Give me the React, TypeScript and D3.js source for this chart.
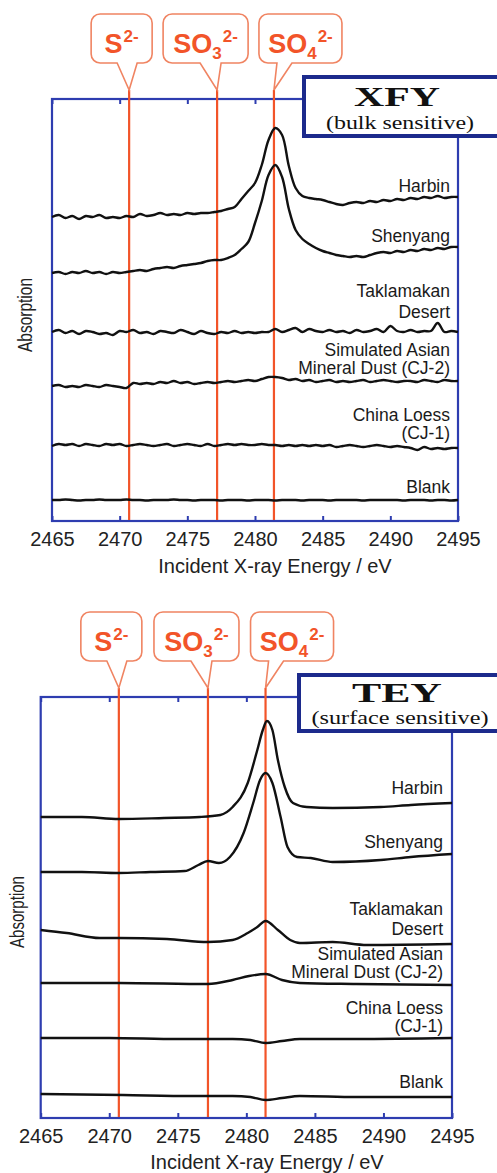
import React, { useEffect, useRef } from 'react';
import * as d3 from 'd3';

const W = 497;
const H = 1173;

// sulfur species reference energies (eV)
const speciesEnergy = [2470.7, 2477.2, 2481.4];
const speciesBase = ['S', 'SO', 'SO'];
const speciesSub = ['', '3', '4'];
const speciesSup = ['2-', '2-', '2-'];

const xTicks = [2465, 2470, 2475, 2480, 2485, 2490, 2495];

const sampleNames = [
  ['Harbin'],
  ['Shenyang'],
  ['Taklamakan', 'Desert'],
  ['Simulated Asian', 'Mineral Dust (CJ-2)'],
  ['China Loess', '(CJ-1)'],
  ['Blank'],
];

// XFY spectra, sampled every 0.5 eV from 2465 to 2495 (stacked, a.u.)
const xfyEnergy = d3.range(2465, 2495.25, 0.5);
const xfyHarbin = [
  30.4, 30.6, 30.3, 30.5, 30.2, 30.5, 30.4, 30.6, 30.3, 30.4,
  30.3, 30.5, 30.4, 30.7, 30.5, 30.6, 30.8, 30.6, 30.7, 30.6,
  30.8, 30.7, 30.8, 30.8, 30.9, 31.0, 31.2, 31.4, 32.2, 33.0,
  33.8, 35.6, 38.1, 39.3, 38.6, 35.5, 33.3, 32.5, 32.3, 32.2,
  32.1, 31.9, 31.7, 31.6, 31.8, 31.9, 31.8, 32.0, 31.9, 32.1,
  32.0, 32.2, 32.1, 32.3, 32.2, 32.4, 32.3, 32.5, 32.3, 32.4,
  32.4,
];
const xfyShenyang = [
  24.8, 24.9, 24.7, 24.9, 24.8, 25.0, 24.8, 24.9, 24.7, 24.9,
  24.8, 24.9, 25.0, 25.1, 25.0, 25.2, 25.3, 25.4, 25.3, 25.5,
  25.6, 25.7, 25.8, 26.0, 26.1, 26.1, 26.3, 26.6, 27.2, 27.9,
  29.8, 32.0, 34.6, 35.6, 34.4, 31.2, 29.1, 28.2, 27.7, 27.3,
  27.0, 26.8, 26.6, 26.5, 26.4, 26.5, 26.4, 26.6, 26.8, 26.9,
  26.8, 27.0, 26.9, 27.1, 27.0, 27.2, 27.1, 27.3, 27.2, 27.4,
  27.4,
];
const xfyTaklamakan = [
  18.9, 19.1, 18.8, 19.0, 18.7, 19.0, 18.9, 18.7, 18.8, 18.6,
  19.0, 18.9, 19.1, 18.8, 18.9, 18.7, 19.0, 18.9, 18.8, 19.1,
  18.9, 18.7, 19.0, 18.8, 18.7, 18.9, 18.8, 19.0, 18.8, 18.9,
  18.8, 18.9, 18.9, 19.2, 18.9, 19.1, 19.3, 18.9, 19.2, 19.0,
  18.9, 19.1, 18.9, 19.0, 18.8, 19.1, 18.9, 19.0, 19.2, 18.9,
  19.5, 19.0, 18.9, 19.1, 18.9, 19.0, 19.0, 19.8, 18.9, 19.0,
  18.9,
];
const xfyCJ2 = [
  13.5, 13.6, 13.4, 13.5, 13.4, 13.6, 13.5, 13.4, 13.6, 13.5,
  13.4, 13.3, 13.8, 13.7, 13.8, 13.7, 13.9, 13.8, 14.0, 13.8,
  13.9, 13.7, 13.8, 13.9, 13.8, 13.9, 14.0, 13.9, 14.0, 14.1,
  14.0, 14.2, 14.4, 14.4, 14.3, 14.1, 14.2, 14.0, 14.1, 13.9,
  14.0, 14.1, 13.9, 14.0, 13.9, 14.0, 14.1, 13.9, 14.0, 14.1,
  14.0, 13.9, 14.0, 14.0, 13.9, 14.1, 14.0, 13.9, 14.1, 14.0,
  14.0,
];
const xfyCJ1 = [
  7.5, 7.7, 7.6, 7.7, 7.5, 7.7, 7.6, 7.5, 7.7, 7.6,
  7.7, 7.5, 7.6, 7.7, 7.6, 7.5, 7.6, 7.7, 7.5, 7.6,
  7.7, 7.6, 7.5, 7.7, 7.5, 7.6, 7.7, 7.6, 7.7, 7.6,
  7.6, 7.7, 7.6, 7.6, 7.5, 7.6, 7.5, 7.6, 7.5, 7.6,
  7.5, 7.6, 7.4, 7.5, 7.6, 7.5, 7.4, 7.5, 7.6, 7.5,
  7.4, 7.5, 7.4, 7.3, 7.1, 7.4, 7.2, 7.3, 7.2, 7.3,
  7.3,
];
const xfyBlank = [
  2.1, 2.1, 2.15, 2.1, 2.05, 2.1, 2.1, 2.15, 2.1, 2.1,
  2.1, 2.15, 2.1, 2.1, 2.05, 2.1, 2.1, 2.1, 2.15, 2.1,
  2.1, 2.05, 2.1, 2.1, 2.1, 2.05, 2.1, 2.1, 2.1, 2.05,
  2.1, 2.1, 2.1, 2.05, 2.1, 2.1, 2.1, 2.05, 2.1, 2.1,
  2.1, 2.05, 2.1, 2.1, 2.1, 2.1, 2.05, 2.1, 2.1, 2.1,
  2.1, 2.1, 2.05, 2.1, 2.1, 2.1, 2.05, 2.1, 2.1, 2.05,
  2.1,
];

// TEY spectra, [energy eV, absorption a.u.]
const teyHarbin = [
  [2465, 30.1], [2468, 30.1], [2470.7, 29.9], [2474, 30.0], [2476.6, 30.1],
  [2478.1, 30.3], [2479.0, 31.1], [2480.1, 33.5], [2480.8, 36.8], [2481.2, 38.8],
  [2481.5, 39.7], [2481.9, 38.8], [2482.3, 35.8], [2482.8, 33.1], [2483.4, 31.5],
  [2484.4, 31.1], [2486.3, 31.0], [2489.8, 31.1], [2492, 31.3], [2495, 31.5],
];
const teyShenyang = [
  [2465, 24.6], [2468, 24.6], [2470.7, 24.5], [2473, 24.6], [2475.5, 24.7],
  [2476.5, 25.3], [2477.2, 25.7], [2478.0, 25.5], [2478.8, 26.1], [2479.8, 28.5],
  [2480.5, 31.5], [2481.0, 33.8], [2481.4, 34.5], [2481.9, 33.5], [2482.5, 30.1],
  [2483.0, 27.1], [2483.7, 26.1], [2484.7, 26.0], [2486.3, 25.6], [2489.8, 25.8],
  [2492, 26.1], [2495, 26.4],
];
const teyTaklamakan = [
  [2465, 18.8], [2466.9, 18.5], [2469.3, 18.0], [2470.7, 18.0], [2474.2, 17.9],
  [2477.2, 17.6], [2479.0, 17.8], [2480.1, 18.5], [2480.8, 19.1], [2481.4, 19.7],
  [2482.3, 18.8], [2483.2, 17.8], [2483.9, 17.5], [2486.3, 17.6], [2488.8, 17.3],
  [2495, 17.4],
];
const teyCJ2 = [
  [2465, 13.5], [2470.7, 13.5], [2477.2, 13.4], [2479.0, 13.8], [2480.2, 14.2],
  [2481.4, 14.4], [2482.6, 13.8], [2483.9, 13.5], [2488, 13.4], [2495, 13.3],
];
const teyCJ1 = [
  [2465, 8.0], [2470, 8.0], [2475, 7.9], [2479, 7.9], [2480.3, 7.8],
  [2481.4, 7.5], [2482.6, 7.7], [2483.9, 7.9], [2488, 7.9], [2495, 8.0],
];
const teyBlank = [
  [2465, 2.4], [2471, 2.3], [2476, 2.2], [2479, 2.2], [2480.3, 2.1],
  [2481.4, 1.8], [2482.6, 2.0], [2483.9, 2.2], [2488, 2.1], [2495, 2.1],
];

const xfySeries = [xfyHarbin, xfyShenyang, xfyTaklamakan, xfyCJ2, xfyCJ1, xfyBlank].map((vals) =>
  vals.map((v, i) => [xfyEnergy[i], v])
);
const teySeries = [teyHarbin, teyShenyang, teyTaklamakan, teyCJ2, teyCJ1, teyBlank];

// layout of each panel (pixels)
const panels = [
  {
    title: 'XFY', subtitle: '(bulk sensitive)', series: xfySeries, smooth: false,
    left: 52, right: 458, top: 99, bottom: 521, yMax: 42.2, tipY: 90,
    labelX: 450, labelY: [[192], [242], [297, 318], [356, 374], [421, 439], [493]],
    box: { x: 304, y: 77, w: 200, h: 59, titleY: 106, subY: 129, titleLen: 86, subLen: 148 },
    absX: 32, absY: 315, absLen: 74, axisTitleX: 275, axisTitleY: 573,
  },
  {
    title: 'TEY', subtitle: '(surface sensitive)', series: teySeries, smooth: true,
    left: 40.7, right: 452, top: 697, bottom: 1118, yMax: 42.1, tipY: 688,
    labelX: 443, labelY: [[794], [848], [915, 935], [960, 978], [1014, 1032], [1088]],
    box: { x: 299, y: 675, w: 200, h: 56, titleY: 702, subY: 724, titleLen: 90, subLen: 177 },
    absX: 24, absY: 912, absLen: 72, axisTitleX: 267, axisTitleY: 1169,
  },
];

// callout boxes relative to the line tip
const calloutOffset = [-38, -54, -15];
const calloutWidth = [61, 85, 83];
const calloutWedge = [[-12, 8], [-17, 4], [3, 18]];

const BLUE = '#2e3db0';
const NAVY = '#1c2a8c';
const RED = '#f25429';
const ORANGE = '#f08462';
const SANS = "'Liberation Sans', Arial, Helvetica, sans-serif";
const SERIF = "'Liberation Serif', 'Times New Roman', serif";

function calloutPath(x0, y0, w, h, r, tipX, tipY, b0, b1) {
  const p = d3.path();
  p.moveTo(x0 + r, y0);
  p.lineTo(x0 + w - r, y0);
  p.arcTo(x0 + w, y0, x0 + w, y0 + r, r);
  p.lineTo(x0 + w, y0 + h - r);
  p.arcTo(x0 + w, y0 + h, x0 + w - r, y0 + h, r);
  p.lineTo(tipX + b1, y0 + h);
  p.lineTo(tipX, tipY);
  p.lineTo(tipX + b0, y0 + h);
  p.lineTo(x0 + r, y0 + h);
  p.arcTo(x0, y0 + h, x0, y0 + h - r, r);
  p.lineTo(x0, y0 + r);
  p.arcTo(x0, y0, x0 + r, y0, r);
  p.closePath();
  return p.toString();
}

const App = () => {
  const svgRef = useRef(null);

  useEffect(() => {
    const svg = d3.select(svgRef.current);
    svg.selectAll('*').remove();
    svg.append('rect').attr('width', W).attr('height', H).attr('fill', '#ffffff');

    panels.forEach((cfg) => {
      const g = svg.append('g');
      const x = d3.scaleLinear().domain([2465, 2495]).range([cfg.left, cfg.right]);
      const y = d3.scaleLinear().domain([0, cfg.yMax]).range([cfg.bottom, cfg.top]);

      // axes with inward ticks
      const bottomAxis = g
        .append('g')
        .attr('transform', `translate(0,${cfg.bottom})`)
        .call(d3.axisBottom(x).tickValues(xTicks).tickSizeInner(-5).tickSizeOuter(0).tickPadding(11).tickFormat(d3.format('d')));
      bottomAxis.selectAll('line').attr('stroke', BLUE).attr('stroke-width', 2);
      bottomAxis.select('.domain').remove();
      bottomAxis.selectAll('text').attr('font-family', SANS).attr('font-size', 20).attr('fill', '#222');

      const topAxis = g
        .append('g')
        .attr('transform', `translate(0,${cfg.top})`)
        .call(d3.axisTop(x).tickValues(xTicks).tickSizeInner(-5).tickSizeOuter(0).tickFormat(''));
      topAxis.selectAll('line').attr('stroke', BLUE).attr('stroke-width', 2);
      topAxis.select('.domain').remove();

      // plot frame
      g.append('rect')
        .attr('x', cfg.left)
        .attr('y', cfg.top)
        .attr('width', cfg.right - cfg.left)
        .attr('height', cfg.bottom - cfg.top)
        .attr('fill', 'none')
        .attr('stroke', BLUE)
        .attr('stroke-width', 2.2);

      // species reference lines
      g.selectAll('.ref')
        .data(speciesEnergy)
        .enter()
        .append('line')
        .attr('x1', (d) => x(d))
        .attr('x2', (d) => x(d))
        .attr('y1', cfg.tipY)
        .attr('y2', cfg.bottom - 1)
        .attr('stroke', RED)
        .attr('stroke-width', 2.2);

      // spectra
      const line = d3
        .line()
        .x((d) => x(d[0]))
        .y((d) => y(d[1]))
        .curve(cfg.smooth ? d3.curveMonotoneX : d3.curveCatmullRom.alpha(0.5));

      cfg.series.forEach((s) => {
        g.append('path')
          .datum(s)
          .attr('d', line)
          .attr('fill', 'none')
          .attr('stroke', '#111')
          .attr('stroke-width', 2.4)
          .attr('stroke-linejoin', 'round');
      });

      // sample labels
      sampleNames.forEach((lines, i) => {
        lines.forEach((txt, j) => {
          g.append('text')
            .attr('x', cfg.labelX)
            .attr('y', cfg.labelY[i][j])
            .attr('text-anchor', 'end')
            .attr('font-family', SANS)
            .attr('font-size', 17.5)
            .attr('fill', '#1a1a1a')
            .text(txt);
        });
      });

      // callouts
      speciesEnergy.forEach((e, i) => {
        const tipX = x(e);
        const bx = tipX + calloutOffset[i];
        const by = cfg.tipY - 76;
        const bw = calloutWidth[i];
        const bh = 49;
        g.append('path')
          .attr('d', calloutPath(bx, by, bw, bh, 9, tipX, cfg.tipY, calloutWedge[i][0], calloutWedge[i][1]))
          .attr('fill', '#fff')
          .attr('stroke', ORANGE)
          .attr('stroke-width', 1.6);
        const t = g
          .append('text')
          .attr('x', bx + bw / 2)
          .attr('y', by + 39)
          .attr('text-anchor', 'middle')
          .attr('font-family', SANS)
          .attr('font-weight', 'bold')
          .attr('fill', RED);
        t.append('tspan').attr('font-size', 27).text(speciesBase[i]);
        let shift = 0;
        if (speciesSub[i]) {
          t.append('tspan').attr('font-size', 17).attr('dy', 6).text(speciesSub[i]);
          shift = 6;
        }
        t.append('tspan')
          .attr('font-size', 17)
          .attr('dx', 1)
          .attr('dy', -11 - shift)
          .text(speciesSup[i]);
      });

      // method box
      const b = cfg.box;
      g.append('rect')
        .attr('x', b.x)
        .attr('y', b.y)
        .attr('width', b.w)
        .attr('height', b.h)
        .attr('fill', '#fff')
        .attr('stroke', NAVY)
        .attr('stroke-width', 4);
      g.append('text')
        .attr('x', 397)
        .attr('y', b.titleY)
        .attr('text-anchor', 'middle')
        .attr('font-family', SERIF)
        .attr('font-weight', 'bold')
        .attr('font-size', 27)
        .attr('textLength', b.titleLen)
        .attr('lengthAdjust', 'spacingAndGlyphs')
        .attr('fill', '#111')
        .text(cfg.title);
      g.append('text')
        .attr('x', 400)
        .attr('y', b.subY)
        .attr('text-anchor', 'middle')
        .attr('font-family', SERIF)
        .attr('font-size', 18.5)
        .attr('textLength', b.subLen)
        .attr('lengthAdjust', 'spacingAndGlyphs')
        .attr('fill', '#111')
        .text(cfg.subtitle);

      // axis titles
      g.append('text')
        .attr('transform', `translate(${cfg.absX},${cfg.absY}) rotate(-90)`)
        .attr('text-anchor', 'middle')
        .attr('font-family', SANS)
        .attr('font-size', 20)
        .attr('textLength', cfg.absLen)
        .attr('lengthAdjust', 'spacingAndGlyphs')
        .attr('fill', '#222')
        .text('Absorption');
      g.append('text')
        .attr('x', cfg.axisTitleX)
        .attr('y', cfg.axisTitleY)
        .attr('text-anchor', 'middle')
        .attr('font-family', SANS)
        .attr('font-size', 20)
        .attr('fill', '#222')
        .text('Incident X-ray Energy / eV');
    });
  }, []);

  return (
    <div style={{ position: 'absolute', left: 0, top: 0 }}>
      <svg ref={svgRef} width={W} height={H} style={{ display: 'block' }} />
    </div>
  );
};

export default App;
